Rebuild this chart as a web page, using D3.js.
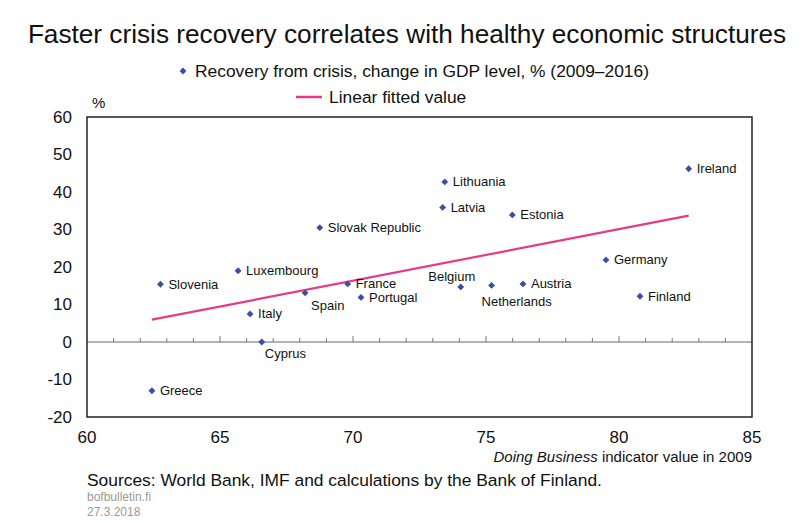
<!DOCTYPE html>
<html>
<head>
<meta charset="utf-8">
<script src="https://cdn.jsdelivr.net/npm/d3@7"></script>
<style>
  body { margin: 0; background: #fff; }
  svg { font-family: "Liberation Sans", Arial, sans-serif; }
</style>
</head>
<body>
<svg width="801" height="523"></svg>
<script>
// country labels, Doing Business score 2009, GDP change 2009-2016
var countries = ["Greece", "Slovenia", "Luxembourg", "Italy", "Cyprus", "Spain", "Slovak Republic",
  "France", "Portugal", "Latvia", "Lithuania", "Belgium", "Netherlands", "Estonia", "Austria",
  "Germany", "Finland", "Ireland"];
var doingBusiness = [62.44, 62.76, 65.68, 66.13, 66.57, 68.2, 68.75,
  69.8, 70.3, 73.37, 73.45, 74.05, 75.21, 75.99, 76.39,
  79.51, 80.79, 82.62];
var gdpChange = [-13.0, 15.4, 19.0, 7.5, 0, 13.1, 30.5,
  15.5, 11.9, 35.9, 42.7, 14.7, 15.1, 33.9, 15.5,
  21.9, 12.2, 46.2];

// fitted line end points
var fitX = [62.44, 82.62];
var fitY = [5.95, 33.7];

var xTicks = [60, 65, 70, 75, 80, 85];
var yTicks = [-20, -10, 0, 10, 20, 30, 40, 50, 60];

// label placement: [dx, dy, anchor]
var labelPos = {
  "Cyprus": [3, 11, "start"],
  "Spain": [6, 13, "start"],
  "Belgium": [-9, -10, "middle"],
  "Netherlands": [25, 16, "middle"]
};

var svg = d3.select("svg"),
    margin = {top: 117, right: 49, bottom: 106, left: 87},
    width = 801 - margin.left - margin.right,
    height = 523 - margin.top - margin.bottom,
    g = svg.append("g").attr("transform", "translate(" + margin.left + "," + margin.top + ")");

var x = d3.scaleLinear().domain([60, 85]).range([0, width]);
var y = d3.scaleLinear().domain([-20, 60]).range([height, 0]);

var blue = "#3b4ea3", pink = "#e8388a";

// title + legend
svg.append("text")
    .attr("x", 407).attr("y", 43)
    .attr("text-anchor", "middle")
    .attr("font-size", 26.2)
    .attr("fill", "#111")
    .text("Faster crisis recovery correlates with healthy economic structures");

var diamond = d3.symbol().type(d3.symbolDiamond2).size(30);

svg.append("path")
    .attr("d", diamond)
    .attr("transform", "translate(183,71)")
    .attr("fill", blue);
svg.append("text")
    .attr("x", 195).attr("y", 77)
    .attr("font-size", 17.4)
    .attr("fill", "#111")
    .text("Recovery from crisis, change in GDP level, % (2009\u20132016)");

svg.append("line")
    .attr("x1", 296).attr("x2", 322)
    .attr("y1", 97).attr("y2", 97)
    .attr("stroke", pink).attr("stroke-width", 2.5);
svg.append("text")
    .attr("x", 329).attr("y", 103)
    .attr("font-size", 17.4)
    .attr("fill", "#111")
    .text("Linear fitted value");

// y axis labels (no tick marks)
g.append("g")
    .selectAll("text")
    .data(yTicks)
    .enter().append("text")
    .attr("x", -15)
    .attr("y", function(d) { return y(d); })
    .attr("dy", "0.35em")
    .attr("text-anchor", "end")
    .attr("font-size", 17)
    .attr("fill", "#111")
    .text(function(d) { return d; });

g.append("text")
    .attr("x", 5).attr("y", -9)
    .attr("font-size", 15)
    .attr("fill", "#111")
    .text("%");

// x axis labels
g.append("g")
    .selectAll("text")
    .data(xTicks)
    .enter().append("text")
    .attr("x", function(d) { return x(d); })
    .attr("y", height + 26)
    .attr("text-anchor", "middle")
    .attr("font-size", 17)
    .attr("fill", "#111")
    .text(function(d) { return d; });

var xt = g.append("text")
    .attr("x", width).attr("y", height + 45)
    .attr("text-anchor", "end")
    .attr("font-size", 15)
    .attr("fill", "#111");
xt.append("tspan").attr("font-style", "italic").text("Doing Business");
xt.append("tspan").text(" indicator value in 2009");

// zero line with ticks pointing up
g.append("line")
    .attr("x1", 0).attr("x2", width)
    .attr("y1", y(0)).attr("y2", y(0))
    .attr("stroke", "#666").attr("stroke-width", 1);

g.append("g")
    .selectAll("line")
    .data(d3.range(61, 85))
    .enter().append("line")
    .attr("x1", function(d) { return x(d); })
    .attr("x2", function(d) { return x(d); })
    .attr("y1", y(0))
    .attr("y2", function(d) { return y(0) - (d % 5 === 0 ? 6 : 4); })
    .attr("stroke", "#777").attr("stroke-width", 1);

// frame
g.append("rect")
    .attr("width", width).attr("height", height)
    .attr("fill", "none")
    .attr("stroke", "#222").attr("stroke-width", 1.5);

// fitted line
g.append("line")
    .attr("x1", x(fitX[0])).attr("y1", y(fitY[0]))
    .attr("x2", x(fitX[1])).attr("y2", y(fitY[1]))
    .attr("stroke", pink).attr("stroke-width", 2.2);

// points
var pts = g.append("g")
    .selectAll("g")
    .data(countries)
    .enter().append("g")
    .attr("transform", function(d, i) { return "translate(" + x(doingBusiness[i]) + "," + y(gdpChange[i]) + ")"; });

pts.append("path")
    .attr("d", diamond)
    .attr("fill", blue);

pts.append("text")
    .attr("x", function(d) { return labelPos[d] ? labelPos[d][0] : 8; })
    .attr("y", function(d) { return labelPos[d] ? labelPos[d][1] : 0; })
    .attr("dy", "0.35em")
    .attr("text-anchor", function(d) { return labelPos[d] ? labelPos[d][2] : "start"; })
    .attr("font-size", 13)
    .attr("fill", "#111")
    .text(function(d) { return d; });

// footer
svg.append("text")
    .attr("x", 87).attr("y", 486)
    .attr("font-size", 17.4)
    .attr("fill", "#111")
    .text("Sources: World Bank, IMF and calculations by the Bank of Finland.");
svg.append("text")
    .attr("x", 87).attr("y", 501)
    .attr("font-size", 12)
    .attr("fill", "#999")
    .text("bofbulletin.fi");
svg.append("text")
    .attr("x", 87).attr("y", 516)
    .attr("font-size", 12)
    .attr("fill", "#999")
    .text("27.3.2018");
</script>
</body>
</html>
